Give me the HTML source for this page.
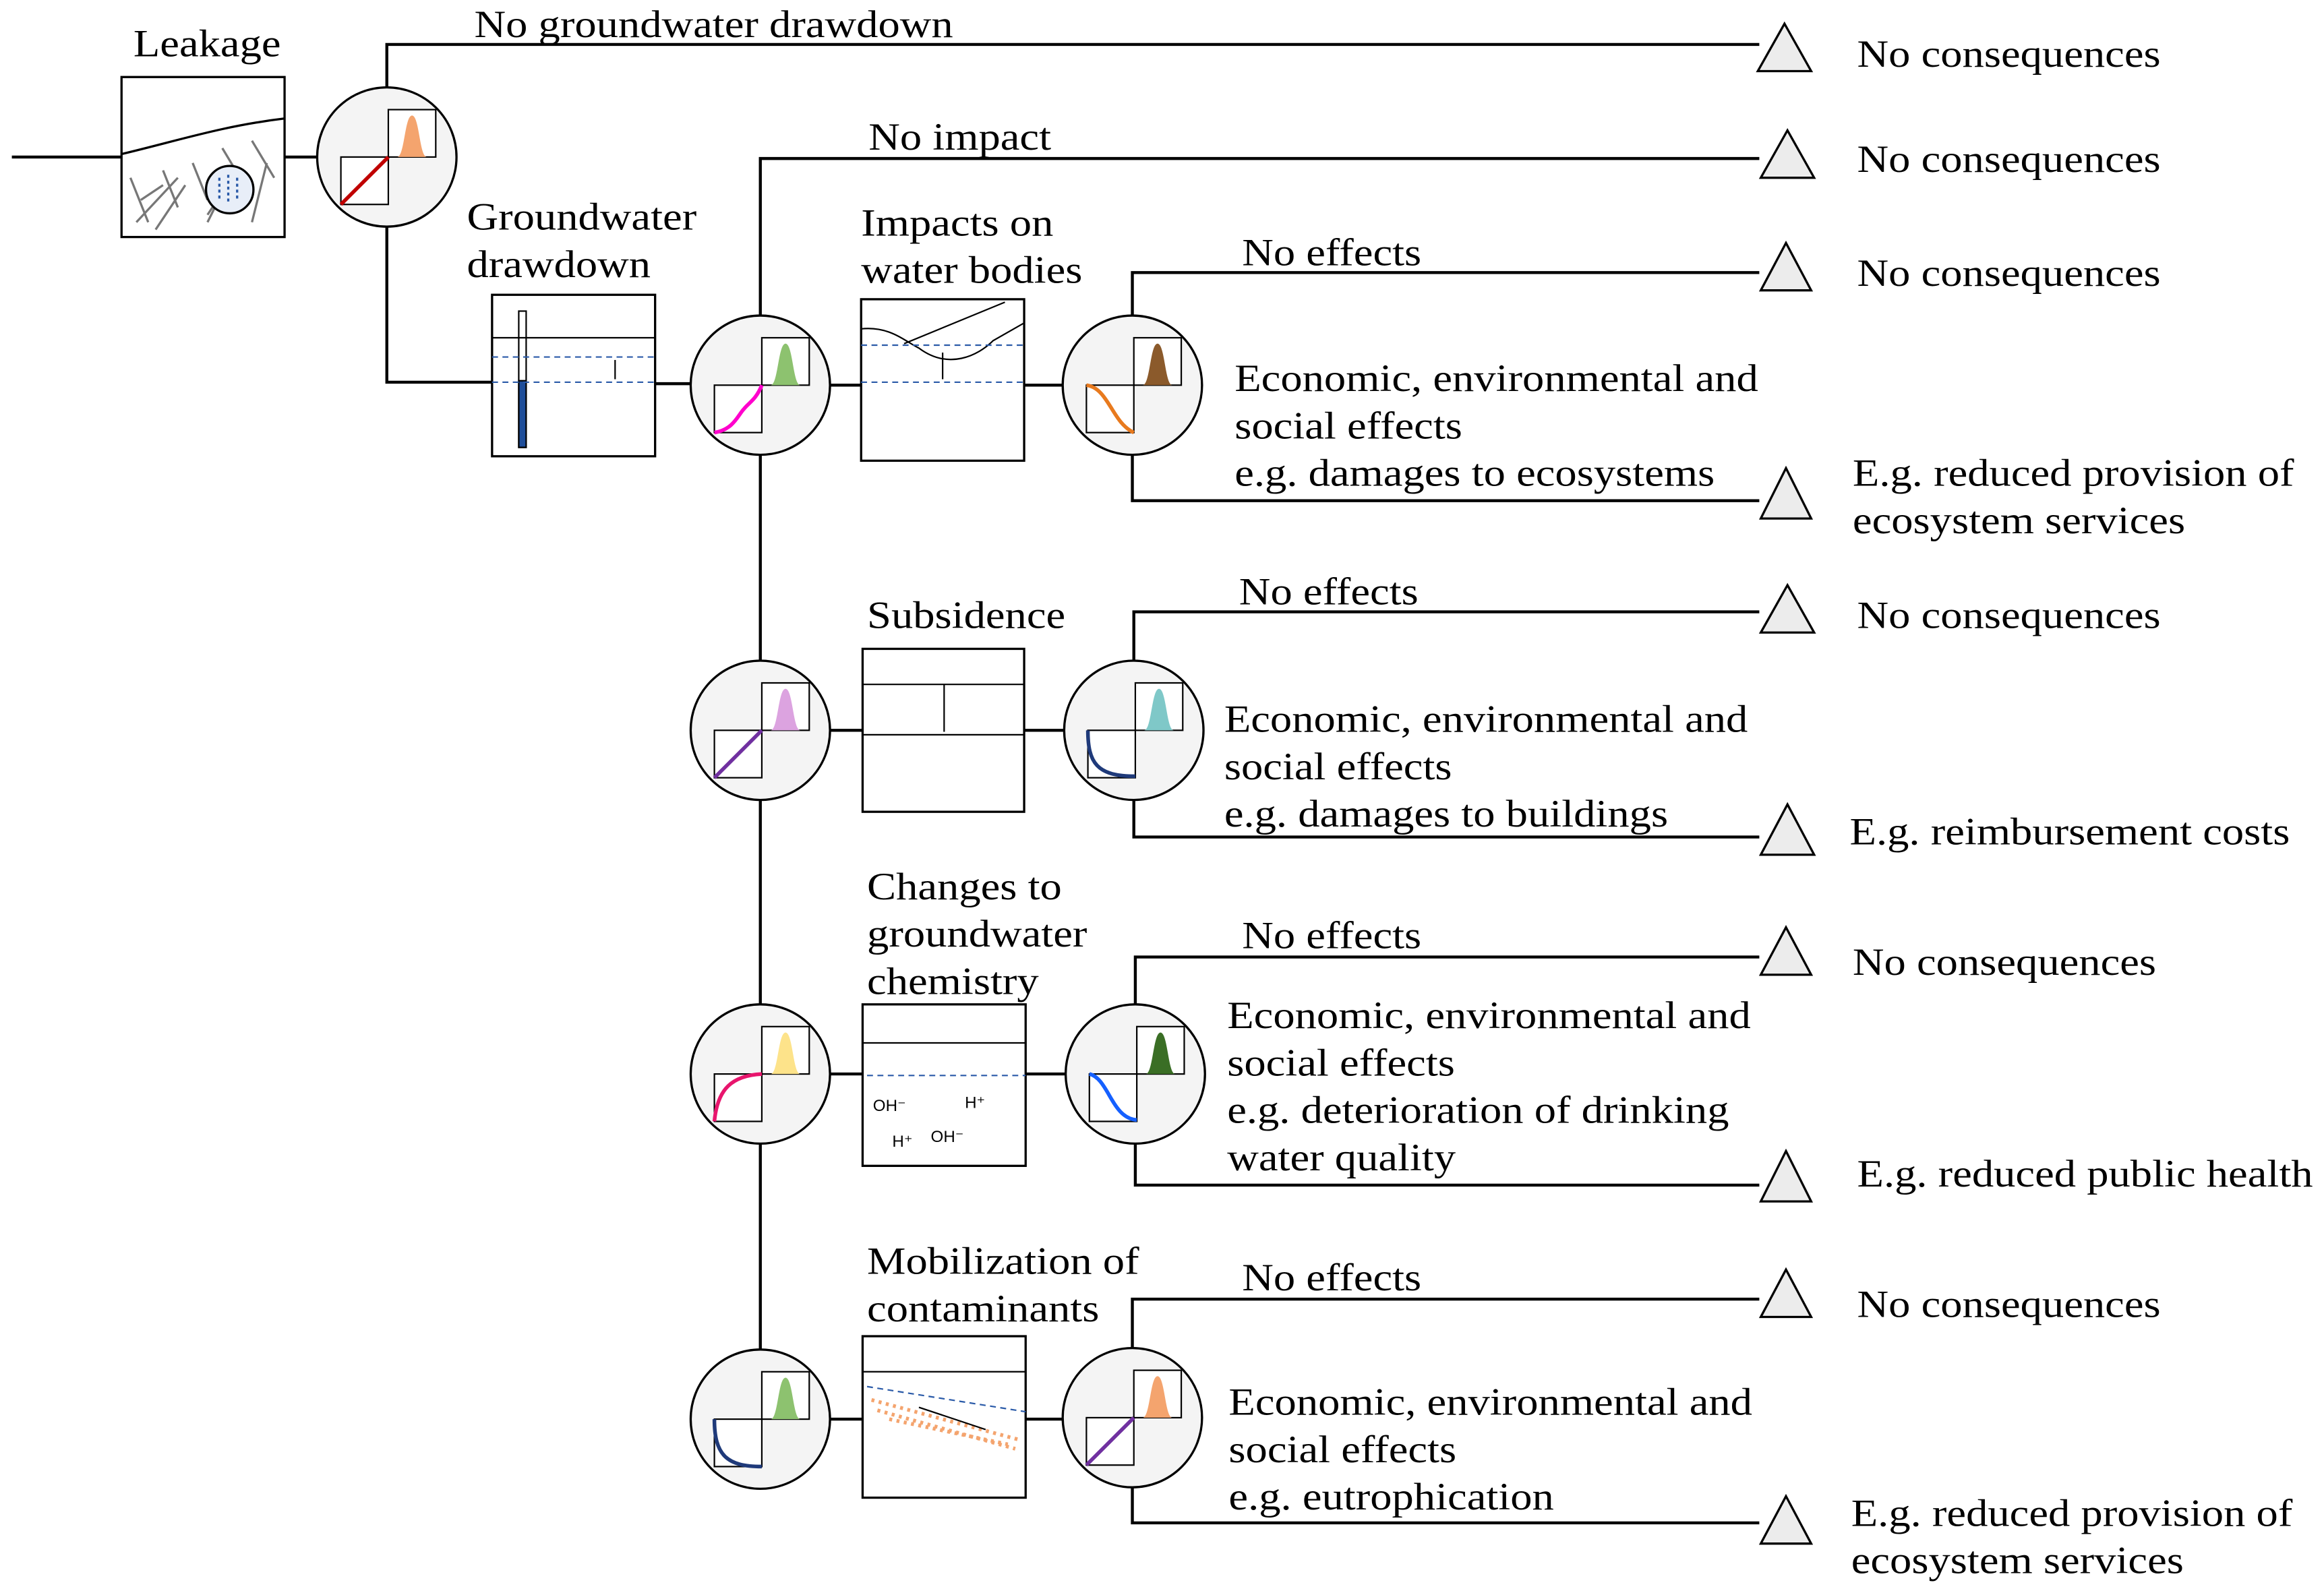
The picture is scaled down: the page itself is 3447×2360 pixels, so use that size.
<!DOCTYPE html>
<html><head><meta charset="utf-8"><style>html,body{margin:0;padding:0;background:#fff}svg{display:block}
text.t{transform-box:fill-box;transform-origin:0 0;transform:scaleX(1.13)}</style></head>
<body>
<svg width="3447" height="2360" viewBox="0 0 1568 1074" preserveAspectRatio="none" xmlns="http://www.w3.org/2000/svg" font-family="'Liberation Serif', serif" font-size="26" fill="#000">
<g stroke="#000" stroke-width="2" fill="none">
<path d="M8 106H82M192 106H215"/>
<path d="M261 59V30H1187"/>
<path d="M261 153V258H332M442 259H466"/>
<path d="M513 213V107H1187"/>
<path d="M560 260H581M691 260H718"/>
<path d="M764 213V184H1187M764 307V338H1187"/>
<path d="M513 307V911"/>
<path d="M560 493H582M691 493H718"/>
<path d="M765 446V413H1187M765 540V565H1187"/>
<path d="M560 725H582M692 725H719"/>
<path d="M766 678V646H1187M766 772V800H1187"/>
<path d="M560 958H582M692 958H717"/>
<path d="M764 910V877H1187M764 1004V1028H1187"/>
</g>
<g fill="#ececec" stroke="#000" stroke-width="1.5">
<path d="M1204 16L1222 48H1186Z"/>
<path d="M1206 88L1224 120H1188Z"/>
<path d="M1205 164L1222 196H1188Z"/>
<path d="M1205 316L1222 350H1188Z"/>
<path d="M1206 395L1224 427H1188Z"/>
<path d="M1206 543L1224 577H1188Z"/>
<path d="M1205 626L1222 658H1188Z"/>
<path d="M1205 777L1222 811H1188Z"/>
<path d="M1205 857L1222 889H1188Z"/>
<path d="M1205 1010L1222 1042H1188Z"/>
</g>
<g stroke="#000" stroke-width="1.5" fill="#fff">
<rect x="82" y="52" width="110" height="108"/>
</g>
<g stroke="#777" stroke-width="1.5" fill="none">
<path d="M82 104C120 95 150 85 192 80" stroke="#000"/>
<path d="M88 120L100 150M95 135L110 125M110 115L120 140M125 125L105 155M130 110L140 135M150 100L165 125M160 115L140 145M170 95L185 120M180 110L170 150M92 150L120 120M140 150L150 130"/>
<circle cx="155" cy="128" r="16" stroke="#000" fill="#e8eef8"/>
<path d="M148 120V134M154 118V138M160 120V136" stroke="#2a5aa8" stroke-dasharray="2 2"/>
</g>
<g stroke="#000" stroke-width="1.5" fill="#fff">
<rect x="332" y="199" width="110" height="109"/>
<rect x="581" y="202" width="110" height="109"/>
<rect x="582" y="438" width="109" height="110"/>
<rect x="582" y="678" width="110" height="109"/>
<rect x="582" y="902" width="110" height="109"/>
</g>
<g stroke="#000" stroke-width="1" fill="none">
<path d="M332 228H442"/>
<rect x="350" y="210" width="5" height="92"/>
<rect x="350" y="257" width="5" height="45" fill="#1f4e9a"/>
<path d="M332 241H442M332 258H442" stroke="#2a5aa8" stroke-dasharray="4 3"/>
<path d="M415 243V256"/>
<path d="M581 222C600 220 610 230 620 235C640 250 660 240 670 230L691 218M610 232L678 204"/>
<path d="M581 233H691M581 258H691" stroke="#2a5aa8" stroke-dasharray="4 3"/>
<path d="M636 238V256"/>
<path d="M582 462H691M582 496H691M637 462V494"/>
<path d="M582 704H692"/>
<path d="M585 726H692" stroke="#2a5aa8" stroke-dasharray="4 3"/>
<path d="M582 926H692"/>
<path d="M585 936L692 953" stroke="#2a5aa8" stroke-dasharray="4 3"/>
<path d="M588 945L688 972M592 952L685 978M600 958L680 975" stroke="#f4a46e" stroke-width="2.5" stroke-dasharray="2 3"/>
<path d="M620 950L665 965"/>
</g>
<g font-size="11" font-family="'Liberation Sans', sans-serif"><text x="589" y="750">OH⁻</text><text x="651" y="748">H⁺</text><text x="602" y="774">H⁺</text><text x="628" y="771">OH⁻</text></g>
<g stroke="#000" stroke-width="1.5" fill="#f4f4f4">
<circle cx="261" cy="106" r="47"/><circle cx="513" cy="260" r="47"/><circle cx="764" cy="260" r="47"/>
<circle cx="513" cy="493" r="47"/><circle cx="765" cy="493" r="47"/>
<circle cx="513" cy="725" r="47"/><circle cx="766" cy="725" r="47"/>
<circle cx="513" cy="958" r="47"/><circle cx="764" cy="957" r="47"/>
</g>
<g stroke="#000" stroke-width="1" fill="#fff">
<rect x="262" y="74" width="32" height="32"/><rect x="230" y="106" width="32" height="32"/>
<rect x="514" y="228" width="32" height="32"/><rect x="482" y="260" width="32" height="32"/>
<rect x="765" y="228" width="32" height="32"/><rect x="733" y="260" width="32" height="32"/>
<rect x="514" y="461" width="32" height="32"/><rect x="482" y="493" width="32" height="32"/>
<rect x="766" y="461" width="32" height="32"/><rect x="734" y="493" width="32" height="32"/>
<rect x="514" y="693" width="32" height="32"/><rect x="482" y="725" width="32" height="32"/>
<rect x="767" y="693" width="32" height="32"/><rect x="735" y="725" width="32" height="32"/>
<rect x="514" y="926" width="32" height="32"/><rect x="482" y="958" width="32" height="32"/>
<rect x="765" y="925" width="32" height="32"/><rect x="733" y="957" width="32" height="32"/>
</g>
<g stroke="none">
<path transform="translate(262,106)" fill="#f4a46e" d="M3 0H6C11 0 11 -28 16 -28C21 -28 21 0 26 0H29Z"/>
<path transform="translate(514,260)" fill="#8dc26f" d="M3 0H6C11 0 11 -28 16 -28C21 -28 21 0 26 0H29Z"/>
<path transform="translate(765,260)" fill="#8b5a2b" d="M3 0H6C11 0 11 -28 16 -28C21 -28 21 0 26 0H29Z"/>
<path transform="translate(514,493)" fill="#dca3e0" d="M3 0H6C11 0 11 -28 16 -28C21 -28 21 0 26 0H29Z"/>
<path transform="translate(766,493)" fill="#7fc8c8" d="M3 0H6C11 0 11 -28 16 -28C21 -28 21 0 26 0H29Z"/>
<path transform="translate(514,725)" fill="#fde38a" d="M3 0H6C11 0 11 -28 16 -28C21 -28 21 0 26 0H29Z"/>
<path transform="translate(767,725)" fill="#3a6e25" d="M3 0H6C11 0 11 -28 16 -28C21 -28 21 0 26 0H29Z"/>
<path transform="translate(514,958)" fill="#8dc26f" d="M3 0H6C11 0 11 -28 16 -28C21 -28 21 0 26 0H29Z"/>
<path transform="translate(765,957)" fill="#f4a46e" d="M3 0H6C11 0 11 -28 16 -28C21 -28 21 0 26 0H29Z"/>
</g>
<g fill="none" stroke-width="2.5">
<path d="M230 138L262 106" stroke="#c00000"/>
<path d="M482 292C495 290 498 280 502 276C505 272 510 270 514 260" stroke="#ff00cc"/>
<path d="M733 260C748 262 750 285 765 292" stroke="#e87a1e"/>
<path d="M482 525L514 493" stroke="#7030a0"/>
<path d="M734 493C734 515 740 524 766 524" stroke="#1f3a7a"/>
<path d="M482 757C484 735 494 726 514 725" stroke="#e8156d"/>
<path d="M735 725C748 728 750 755 767 756" stroke="#1560ff"/>
<path d="M482 958C482 982 490 990 514 990" stroke="#1f3a7a"/>
<path d="M733 989L765 957" stroke="#7030a0"/>
</g>
<g>
<text class="t" x="90" y="38">Leakage</text>
<text class="t" x="320" y="25">No groundwater drawdown</text>
<text class="t" x="315" y="155">Groundwater</text><text class="t" x="315" y="187">drawdown</text>
<text class="t" x="586" y="101">No impact</text>
<text class="t" x="581" y="159">Impacts on</text><text class="t" x="581" y="191">water bodies</text>
<text class="t" x="838" y="179">No effects</text>
<text class="t" x="833" y="264">Economic, environmental and</text><text class="t" x="833" y="296">social effects</text><text class="t" x="833" y="328">e.g. damages to ecosystems</text>
<text class="t" x="585" y="424">Subsidence</text>
<text class="t" x="836" y="408">No effects</text>
<text class="t" x="826" y="494">Economic, environmental and</text><text class="t" x="826" y="526">social effects</text><text class="t" x="826" y="558">e.g. damages to buildings</text>
<text class="t" x="585" y="607">Changes to</text><text class="t" x="585" y="639">groundwater</text><text class="t" x="585" y="671">chemistry</text>
<text class="t" x="838" y="640">No effects</text>
<text class="t" x="828" y="694">Economic, environmental and</text><text class="t" x="828" y="726">social effects</text><text class="t" x="828" y="758">e.g. deterioration of drinking</text><text class="t" x="828" y="790">water quality</text>
<text class="t" x="585" y="860">Mobilization of</text><text class="t" x="585" y="892">contaminants</text>
<text class="t" x="838" y="871">No effects</text>
<text class="t" x="829" y="955">Economic, environmental and</text><text class="t" x="829" y="987">social effects</text><text class="t" x="829" y="1019">e.g. eutrophication</text>
<text class="t" x="1253" y="45">No consequences</text>
<text class="t" x="1253" y="116">No consequences</text>
<text class="t" x="1253" y="193">No consequences</text>
<text class="t" x="1250" y="328">E.g. reduced provision of</text><text class="t" x="1250" y="360">ecosystem services</text>
<text class="t" x="1253" y="424">No consequences</text>
<text class="t" x="1248" y="570">E.g. reimbursement costs</text>
<text class="t" x="1250" y="658">No consequences</text>
<text class="t" x="1253" y="801">E.g. reduced public health</text>
<text class="t" x="1253" y="889">No consequences</text>
<text class="t" x="1249" y="1030">E.g. reduced provision of</text><text class="t" x="1249" y="1062">ecosystem services</text>
</g>
</svg>
</body></html>
